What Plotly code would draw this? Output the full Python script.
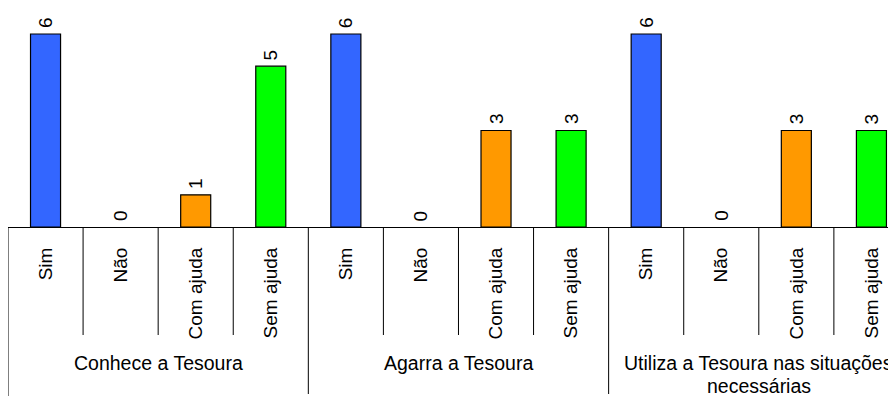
import plotly.graph_objects as go

groups = ["Conhece a Tesoura", "Agarra a Tesoura", "Utiliza a Tesoura nas situações<br>necessárias"]
answers = ["Sim", "Não", "Com ajuda", "Sem ajuda"]
values = [
    [6, 0, 1, 5],
    [6, 0, 3, 3],
    [6, 0, 3, 3],
]
colors = ["#3366FF", "#3366FF", "#FF9900", "#00FF00"]

FONT = "Liberation Sans, Arial, sans-serif"
OFF = 8                      # page body margin of the browser
W, H = 896 - OFF, 396 - OFF
BASE = 227 - OFF             # pixel y of the baseline inside the figure
CAT_PX = 75.08               # pixel width of one category
LEFT = 0

x_idx, y_vals, bar_cols, tick_text = [], [], [], []
for g, row in enumerate(values):
    for a, v in enumerate(row):
        x_idx.append(g * len(answers) + a)
        y_vals.append(v)
        bar_cols.append(colors[a])
        tick_text.append(answers[a])

n = len(x_idx)
plot_h = BASE
ymax = max(y_vals) * plot_h / 193.0
xmax = -0.5 + (W - LEFT) / CAT_PX

fig = go.Figure(go.Bar(
    x=x_idx, y=y_vals, width=0.4,
    marker=dict(color=bar_cols,
                line=dict(color="#000000",
                          width=[1.2 if v > 0 else 0 for v in y_vals])),
    cliponaxis=False, hoverinfo="x+y",
))

def py(pix_ref):
    """reference pixel y -> paper y"""
    return (BASE - (pix_ref - OFF)) / plot_h

shapes = []
for i in range(n + 1):
    is_group = i % len(answers) == 0
    bottom = 396 if i == 0 else (394 if is_group else 335)
    shapes.append(dict(type="line", xref="x", yref="paper",
                       x0=i - 0.5, x1=i - 0.5, y0=0, y1=py(bottom),
                       line=dict(color="#000000", width=1)))

annotations = []
# value labels above bars
for xi, v in zip(x_idx, y_vals):
    annotations.append(dict(x=xi, xref="x", y=v, yref="y", text=str(v),
                            showarrow=False, textangle=-90, yanchor="bottom",
                            xanchor="center", yshift=4,
                            font=dict(family=FONT, size=19, color="#000000")))
# group labels
for g, name in enumerate(groups):
    center = g * len(answers) + (len(answers) - 1) / 2
    for k, line in enumerate(name.split("<br>")):
        annotations.append(dict(x=center, xref="x", y=py(350 + 23 * k), yref="paper",
                                text=line, showarrow=False, yanchor="top",
                                xanchor="center",
                                font=dict(family=FONT, size=19.5, color="#000000")))

fig.update_layout(
    width=W, height=H,
    margin=dict(l=LEFT, r=0, t=0, b=H - BASE, pad=0),
    plot_bgcolor="#FFFFFF", paper_bgcolor="#FFFFFF",
    showlegend=False,
    shapes=shapes, annotations=annotations,
    xaxis=dict(range=[-0.5, xmax], tickmode="array", tickvals=x_idx,
               ticktext=tick_text, tickangle=-90, showgrid=False,
               zeroline=False, showline=True, linecolor="#000000", linewidth=1,
               ticks="", ticklabelstandoff=12,
               tickfont=dict(family=FONT, size=19, color="#000000")),
    yaxis=dict(range=[0, ymax], visible=False, showgrid=False, zeroline=False),
)

fig.write_html("out.html")
